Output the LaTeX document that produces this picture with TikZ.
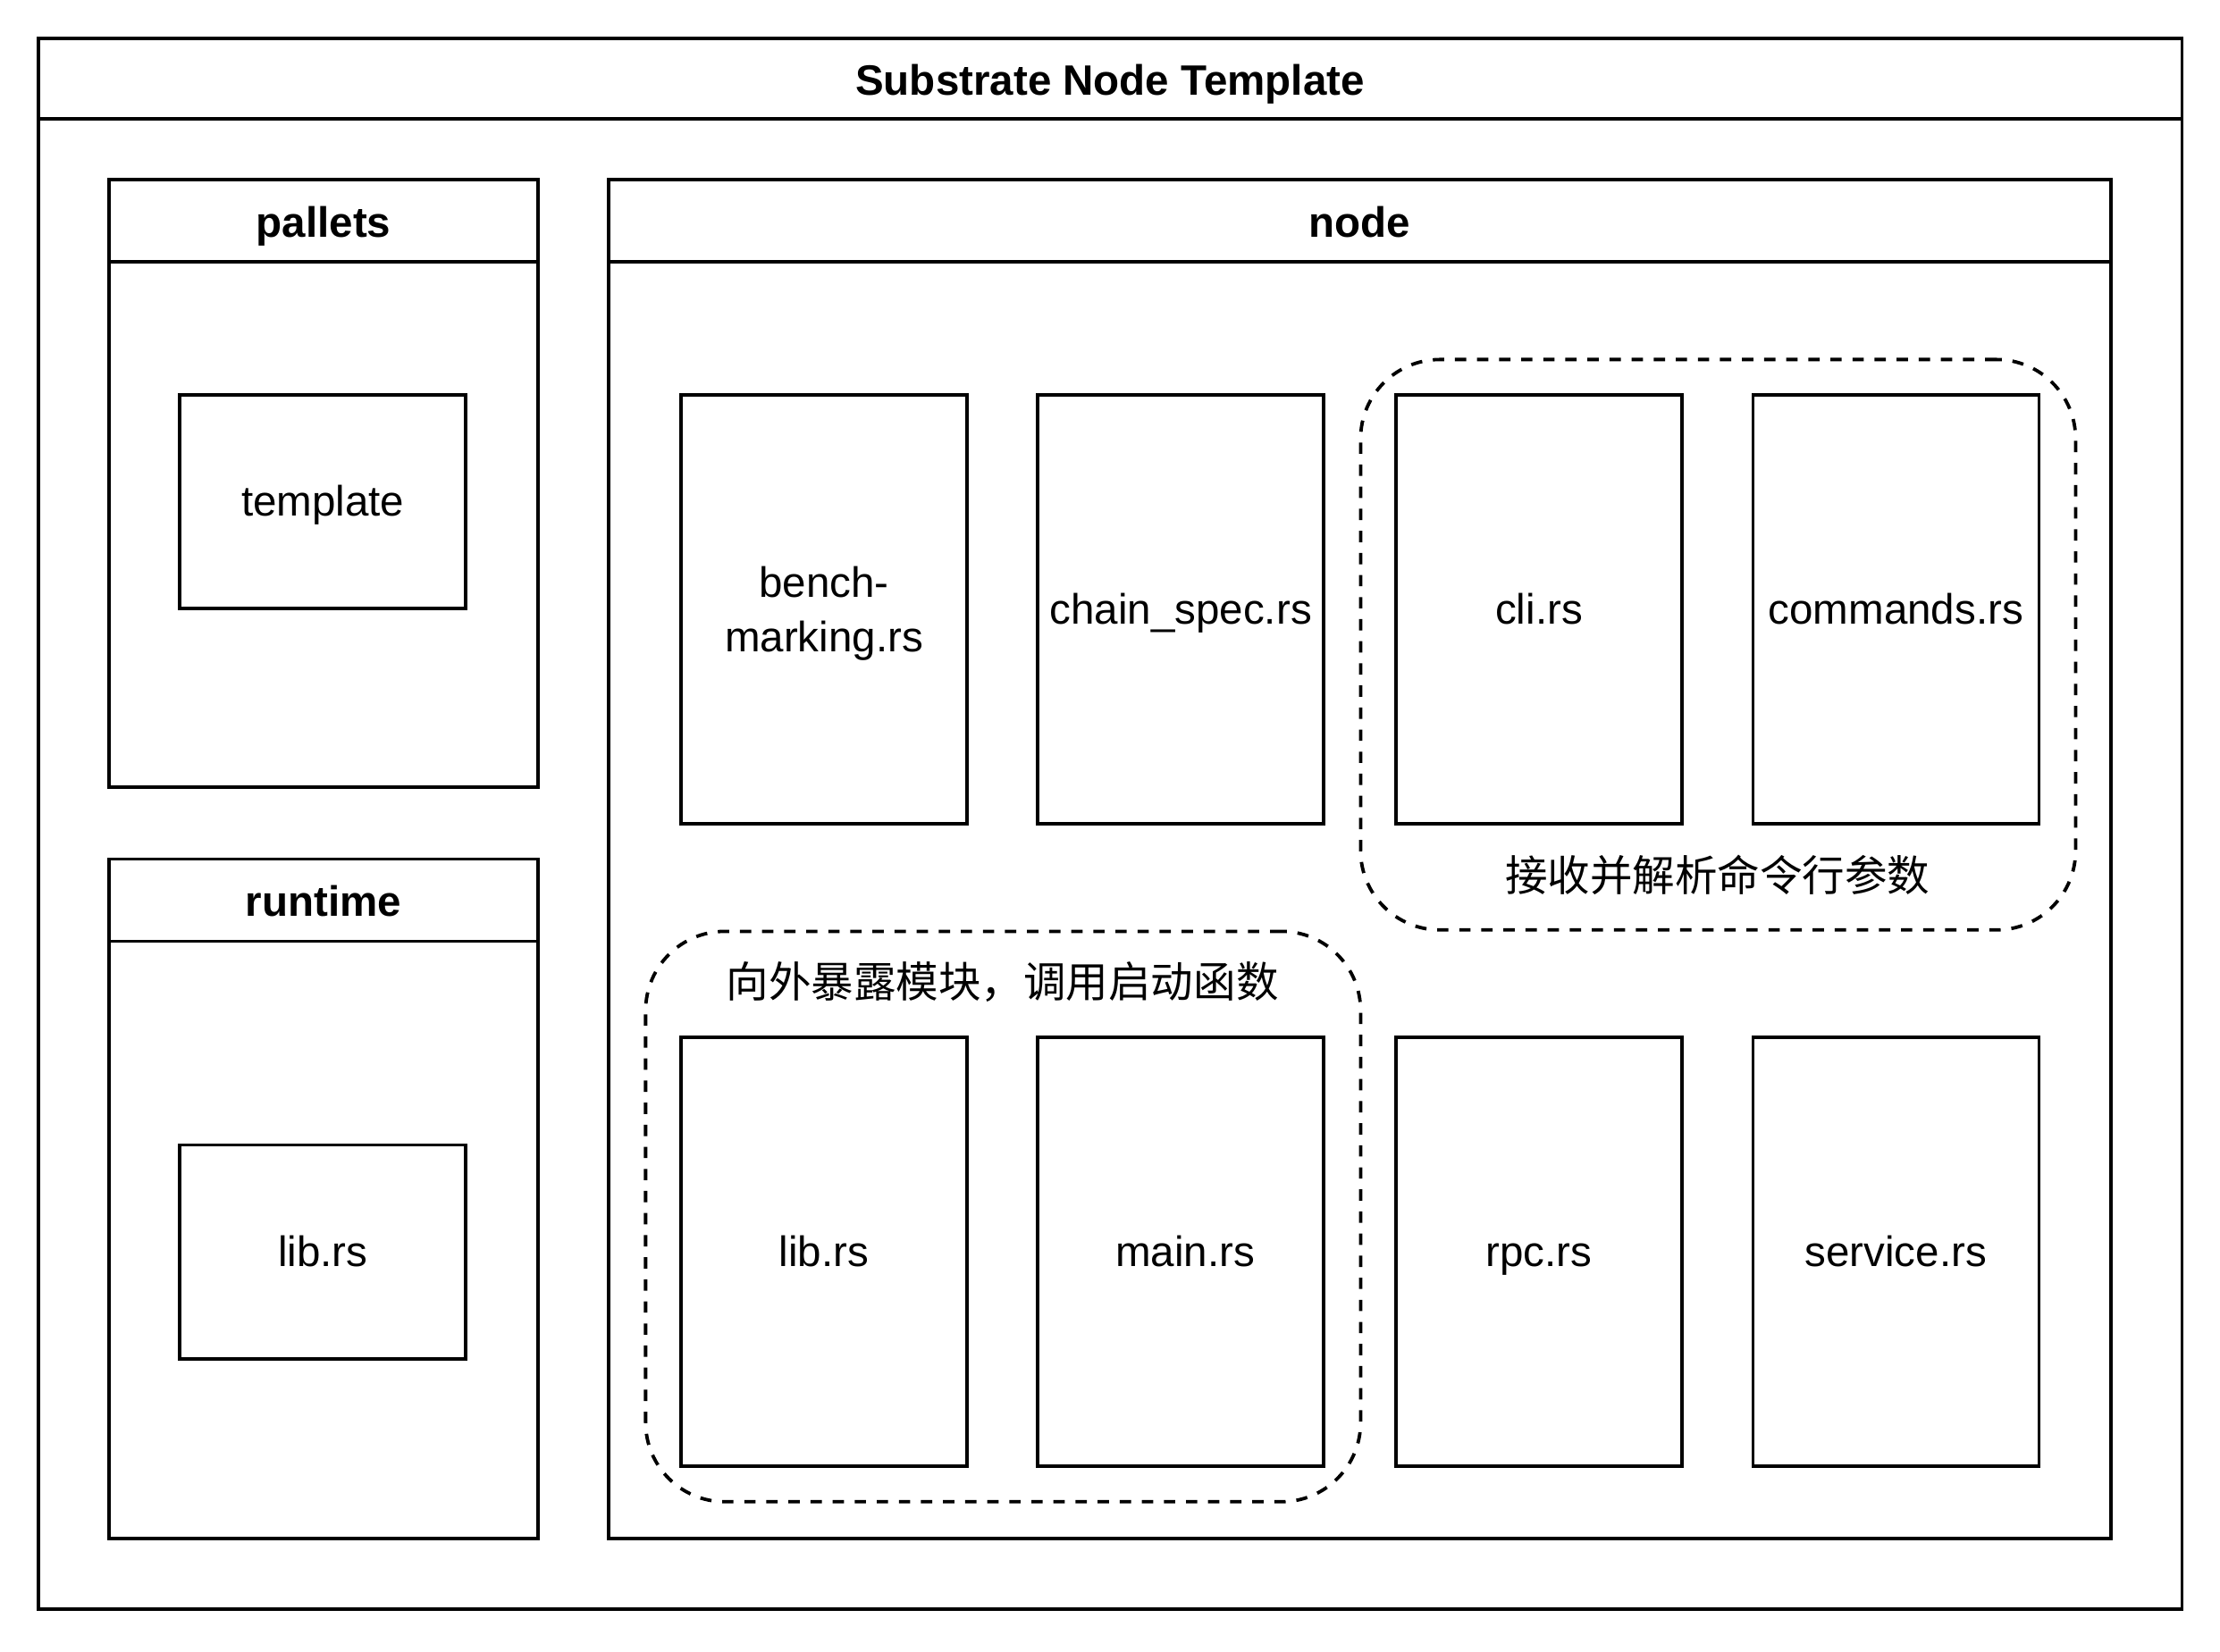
\documentclass[tikz,border=0pt]{standalone}
\usepackage{fontspec}
\setmainfont{Liberation Sans}
\newfontfamily\cjk{Noto Sans CJK SC}
\begin{document}
\begin{tikzpicture}[x=0.5pt,y=-0.5pt,
  every node/.style={font=\fontsize{15}{19}\selectfont},
  frame/.style={draw=black, line width=1.1pt, rectangle, inner sep=0pt, outer sep=0pt},
  sep/.style={line width=1.1pt},
  filebox/.style={frame, minimum width=101pt, minimum height=151.5pt, text height=12.5pt, text depth=2.3pt},
  multibox/.style={frame, minimum width=101pt, minimum height=151.5pt, align=center},
  smallbox/.style={frame, minimum width=101pt, minimum height=75.5pt, text height=12.5pt, text depth=2.3pt},
  group/.style={draw=black, line width=1.2pt, dash pattern=on 4pt off 3.8pt, rounded corners=28pt, rectangle, inner sep=0pt, minimum width=252.5pt, minimum height=201.5pt},
  title/.style={font=\bfseries\fontsize{15}{18}\selectfont, inner sep=0pt, text height=13.5pt, text depth=1.9pt},
  cjklabel/.style={font=\cjk\fontsize{15}{18}\selectfont, inner sep=0pt}
]
\useasboundingbox (0,0) rectangle (1568,1166.6);

% outer frame
\node[frame, minimum width=757pt, minimum height=555pt] (outer) at (784,582) {};
\draw[sep] (outer.north west) ++(0,57) coordinate (oh) -- (oh -| outer.east);
\node[title] (outertitle) at (784,55.5) {Substrate Node Template};

% pallets
\node[frame, minimum width=151.5pt, minimum height=214.5pt] (pallets) at (228.5,341.5) {};
\draw[sep] (pallets.north west) ++(0,58) coordinate (ph) -- (ph -| pallets.east);
\node[title] (pallettitle) at (228.5,156) {pallets};
\node[smallbox] (template) at (228,354.5) {template};

% runtime
\node[frame, minimum width=151.5pt, minimum height=240pt] (runtime) at (228.5,847) {};
\draw[sep] (runtime.north west) ++(0,58) coordinate (rh) -- (rh -| runtime.east);
\node[title] (runtimetitle) at (228.5,636) {runtime};
\node[smallbox] (rlib) at (228,884.5) {lib.rs};

% node
\node[frame, minimum width=530.5pt, minimum height=480pt] (nodebox) at (960.5,607) {};
\draw[sep] (nodebox.north west) ++(0,58) coordinate (nh) -- (nh -| nodebox.east);
\node[title] (nodetitle) at (960.5,156) {node};

% groups
\node[group] (grpcli) at (1213.5,455.5) {};
\node[cjklabel] (grpclilabel) at (1213,618) {接收并解析命令行参数};
\node[group] (grpmain) at (708.5,859.5) {};
\node[cjklabel] (grpmainlabel) at (708,694) {向外暴露模块，调用启动函数};

% row 1
\node[multibox] (bench) at (582,430.5) {};
\node[inner sep=0pt, align=center] (benchtext) at ([yshift=-1.5pt]bench.center) {bench-\\marking.rs};
\node[filebox] (chainspec) at (834,430.5) {chain\_spec.rs};
\node[filebox] (cli) at (1087,430.5) {cli.rs};
\node[filebox] (commands) at (1339,430.5) {commands.rs};

% row 2
\node[filebox] (nlib) at (582,884.5) {lib.rs};
\node[filebox] (mainrs) at (834,884.5) {\hspace*{3pt}main.rs};
\node[filebox] (rpc) at (1087,884.5) {rpc.rs};
\node[filebox] (service) at (1339,884.5) {service.rs};
\end{tikzpicture}
\end{document}
